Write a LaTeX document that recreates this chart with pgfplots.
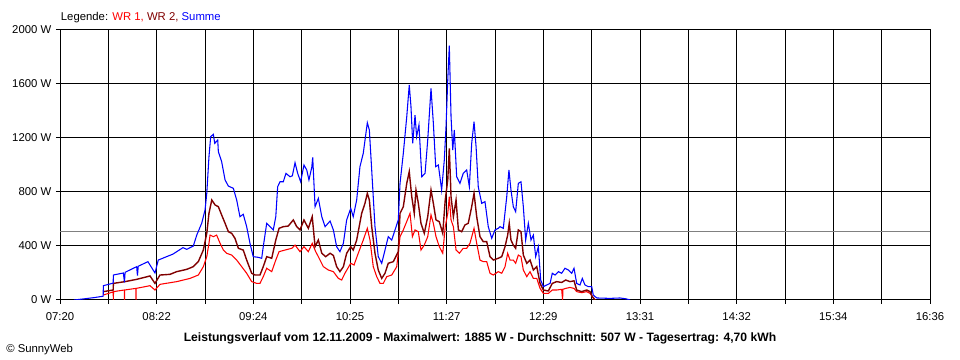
\documentclass[border=0pt]{standalone}
\usepackage{fontspec}
\setmainfont{Liberation Sans}
\usepackage{pgfplots}
\pgfplotsset{compat=1.18}
\definecolor{wrone}{RGB}{255,0,0}
\definecolor{wrtwo}{RGB}{128,0,0}
\definecolor{summe}{RGB}{0,0,255}
\definecolor{avggray}{RGB}{128,128,128}
\begin{document}
\begin{tikzpicture}
\useasboundingbox (-45pt,-45pt) rectangle (675pt,225pt);
\begin{axis}[
  scale only axis, width=652.5pt, height=202.5pt,
  xmin=0, xmax=556, ymin=0, ymax=2000,
  axis line style={black, line width=0.75pt},
  xtick={0,61.778,123.556,185.333,247.111,308.889,370.667,432.444,494.222,556},
  xticklabels={07:20,08:22,09:24,10:25,11:27,12:29,13:31,14:32,15:34,16:36},
  minor xtick={30.889,92.667,154.444,216.222,278,339.778,401.556,463.333,525.111},
  ytick={0,400,800,1200,1600,2000},
  yticklabels={0 W,400 W,800 W,1200 W,1600 W,2000 W},
  grid=both,
  major grid style={black, line width=0.75pt},
  minor grid style={black, line width=0.75pt},
  tick pos=left, tick align=outside,
  major tick length=3pt, minor tick length=3pt,
  tick style={black, line width=0.75pt},
  tick label style={font=\fontsize{8.5}{10}\selectfont},
  xticklabel style={yshift=-3pt},
  every axis plot/.append style={no marks, line join=miter},
]
\addplot[avggray, line width=0.75pt] coordinates {(0,507) (556,507)};
% WR 1
\addplot[wrone, line width=0.8pt] coordinates {
(27.7,37) (34.0,60) (34.1,0) (34.2,62) (41.1,74) (41.2,0) (41.3,74) (48.5,86) (48.6,0) (48.7,86)
(57.5,106) (60.7,74) (63.9,116) (74.6,136) (83.1,160) (88.4,185) (91.6,247) (93.8,321) (95.2,420)
(95.9,481) (98.0,469) (100.1,481) (102.3,420) (104.4,370) (106.5,346) (109.7,333) (112.9,296)
(116.1,247) (119.3,198) (122.5,136) (125.7,123) (127.8,123) (129.9,173) (132.1,235) (135.3,210)
(137.9,296) (140.0,358) (143.8,370) (148.1,383) (150.2,407) (153.4,358) (155.9,395) (158.7,358)
(161.2,420) (163.4,358) (165.1,321) (168.3,247) (171.5,222) (174.7,210) (177.9,160) (180.0,148)
(182.1,198) (185.8,272) (187.9,259) (190.6,346) (193.8,444) (196.4,531) (198.1,444) (200.2,247)
(202.4,173) (204.5,123) (206.6,123) (208.8,173) (212.0,185) (215.2,247) (217.3,469) (219.4,519)
(222.0,593) (223.7,642) (225.2,469) (226.9,519) (229.0,506) (230.7,370) (232.8,407) (235.0,469)
(237.1,630) (238.6,568) (240.3,469) (242.4,395) (244.6,346) (246.2,543) (247.8,642) (248.8,765)
(249.9,593) (251.4,543) (253.1,370) (255.2,346) (257.7,383) (259.9,383) (262.0,420) (264.6,531)
(266.3,420) (268.4,296) (270.5,284) (272.7,284) (274.8,198) (276.9,185) (280.1,210) (282.3,198)
(284.4,247) (286.1,346) (287.6,296) (289.7,296) (291.2,272) (292.9,333) (294.6,321) (296.1,222)
(298.3,173) (300.4,210) (302.5,160) (304.7,160) (306.8,86) (308.9,49) (312.1,49) (314.6,74)
(317.4,74) (320.6,79) (321.2,0) (321.4,79) (323.2,86) (325.9,93) (328.5,86) (330.2,62) (333.4,54)
(336.6,62) (338.7,49) (340.2,25) (341.9,0)};
% WR 2
\addplot[wrtwo, line width=1.05pt] coordinates {
(27.7,62) (34.0,74) (34.1,123) (41.5,136) (49.0,153) (57.5,178) (60.7,123) (63.9,185) (70.3,190)
(74.6,210) (81.0,227) (85.2,247) (88.4,284) (91.6,370) (93.8,494) (95.2,642) (97.0,741) (99.1,704)
(101.2,691) (103.3,630) (105.5,568) (107.6,506) (109.7,494) (111.8,457) (114.0,383) (117.1,370)
(119.3,296) (122.5,198) (124.6,185) (127.8,185) (129.9,247) (132.1,321) (135.3,309) (137.9,444)
(140.0,531) (142.7,543) (145.9,548) (149.1,593) (151.3,543) (153.4,519) (155.9,593) (158.7,531)
(161.2,617) (163.0,395) (165.1,444) (167.3,346) (169.8,321) (172.6,346) (174.7,330) (176.8,247)
(178.9,210) (181.1,247) (183.2,346) (185.8,395) (187.4,370) (189.6,444) (192.8,642) (194.9,716)
(196.4,790) (197.7,741) (199.2,543) (201.3,346) (203.4,222) (205.6,160) (207.7,198) (209.8,272)
(213.0,284) (216.2,358) (217.3,642) (219.4,691) (221.6,864) (223.2,951) (224.8,765) (226.4,642)
(227.5,815) (229.0,716) (230.7,568) (232.8,494) (235.0,617) (237.1,815) (238.6,716) (240.3,593)
(242.4,580) (244.6,494) (246.2,741) (247.8,889) (248.8,1123) (249.9,765) (251.4,617) (253.1,741)
(254.6,519) (256.7,506) (258.8,556) (260.9,568) (263.1,691) (264.6,790) (266.3,617) (268.4,469)
(270.5,432) (272.7,432) (274.8,321) (276.9,296) (280.1,309) (282.3,321) (284.4,395) (286.1,481)
(287.1,568) (288.2,444) (289.7,407) (291.2,383) (292.9,519) (294.6,506) (296.1,333) (298.3,272)
(300.4,296) (302.5,222) (304.7,247) (306.8,123) (308.9,74) (312.1,67) (314.6,123) (317.4,136)
(320.6,130) (323.2,148) (325.9,136) (328.5,142) (330.2,74) (333.4,62) (336.6,74) (338.7,62)
(340.2,25) (341.9,0)};
% Summe
\addplot[summe, line width=0.8pt] coordinates {
(8.9,0) (15,8) (22,18) (27.6,28) (27.7,106) (34.0,125) (34.1,185) (40.5,200) (41.2,130) (41.6,205)
(49.0,247) (49.5,180) (50.0,250) (56.2,284) (60.7,200) (62.8,296) (72.2,340) (78.6,388) (81.0,375)
(85.2,400) (87.4,481) (90.6,570) (92.7,667) (93.8,790) (95.2,1061) (96.3,1210) (98.0,1227)
(98.9,1160) (100.8,1185) (101.2,1099) (103.3,1025) (105.5,889) (107.6,844) (110.8,827) (112.9,741)
(115.0,617) (117.1,635) (119.3,543) (121.4,420) (123.5,321) (126.7,316) (128.9,309) (129.9,395)
(132.1,568) (134.2,543) (136.3,519) (137.9,617) (139.1,839) (140.6,876) (142.7,876) (144.4,938)
(147.0,913) (148.5,920) (150.2,1017) (151.9,938) (153.8,876) (155.9,1000) (157.7,963) (159.1,889)
(160.9,983) (161.5,1057) (163.0,691) (165.1,753) (167.3,617) (169.4,543) (172.6,585) (174.7,519)
(176.8,395) (178.9,358) (181.1,420) (183.2,593) (185.8,679) (187.4,617) (189.6,741) (191.7,988)
(193.8,1086) (196.4,1313) (197.7,1259) (199.2,963) (201.3,543) (203.4,321) (205.6,272) (207.7,370)
(209.8,469) (212.0,444) (214.1,519) (216.2,593) (217.3,864) (219.4,1086) (221.6,1358) (223.2,1593)
(224.3,1432) (225.4,1160) (226.9,1370) (227.9,1210) (229.4,1296) (231.2,913) (233.3,938)
(235.0,1185) (237.1,1568) (238.6,1309) (240.1,988) (241.8,1000) (243.9,815) (245.6,1037)
(246.7,1284) (247.8,1630) (248.8,1885) (249.9,1358) (251.0,1111) (252.0,1259) (253.5,913)
(255.6,864) (257.7,938) (259.9,963) (261.6,839) (263.1,1160) (264.6,1321) (265.9,1136) (267.3,839)
(269.5,716) (271.6,728) (273.7,543) (275.9,457) (278.0,519) (280.1,531) (281.2,543) (283.3,531)
(285.5,765) (286.9,963) (288.2,815) (289.7,691) (291.2,654) (292.9,864) (294.6,876) (296.1,691)
(297.6,444) (299.3,568) (301.0,444) (302.5,481) (304.0,321) (305.7,395) (307.2,148) (308.9,99)
(311.0,111) (313.2,123) (314.6,198) (316.4,185) (318.5,210) (320.6,198) (322.7,235) (324.9,222)
(327.0,198) (328.5,235) (330.2,123) (332.3,111) (333.8,160) (335.5,111) (337.6,99) (339.8,99)
(340.8,37) (341.9,25) (343.2,15) (351.5,12) (357.9,15) (362,8) (364.3,0)};
\end{axis}
\node[anchor=base west, inner sep=0, font=\fontsize{8.5}{10}\selectfont] at (0.5pt,209.5pt)
  {Legende: \textcolor{wrone}{WR 1,} \textcolor{wrtwo}{WR 2,} \textcolor{summe}{Summe}};
\node[anchor=base, inner sep=0, font=\bfseries\fontsize{9.1}{11}\selectfont] at (315pt,-31.3pt)
  {Leistungsverlauf vom 12.11.2009 - Maximalwert: 1885 W - Durchschnitt: 507 W - Tagesertrag: 4,70 kWh};
\node[anchor=base west, inner sep=0, font=\fontsize{8.5}{10}\selectfont] at (-40.5pt,-39.75pt)
  {© SunnyWeb};
\end{tikzpicture}
\end{document}
